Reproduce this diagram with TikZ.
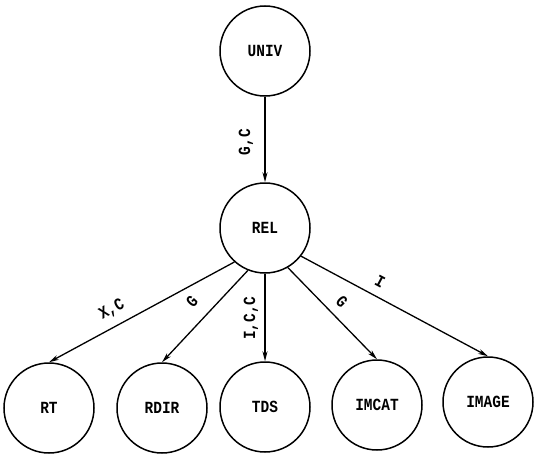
\documentclass[tikz,border=0pt]{standalone}
\usepackage{fontspec}
\newfontfamily\typew[FakeStretch=0.85]{Liberation Mono}
\usetikzlibrary{arrows.meta}
\begin{document}
\begin{tikzpicture}[x=1pt,y=-1pt,
  ent/.style={circle,draw,line width=1.5pt,minimum size=90pt,inner sep=0pt,
    font=\typew\bfseries\fontsize{17}{17}\selectfont},
  lbl/.style={inner sep=0pt,font=\typew\bfseries\fontsize{17}{17}\selectfont},
  rel/.style={line width=1.3pt,-{Stealth[length=10pt,width=5pt]}}]
\useasboundingbox (0,0) rectangle (535,455);
\node[ent] (UNIV) at (265,51) {UNIV};
\node[ent] (REL) at (265,228) {REL};
\node[ent] (RT) at (49,408) {RT};
\node[ent] (RDIR) at (162,408) {RDIR};
\node[ent] (TDS) at (265,407) {TDS};
\node[ent] (IMCAT) at (377,405) {IMCAT};
\node[ent] (IMAGE) at (488,402) {IMAGE};
\draw[rel] (UNIV.south) -- (REL.north);
\draw[rel] (REL.228) -- (RT.north);
\draw[rel] (REL.248) -- (RDIR.north);
\draw[rel] (REL.south) -- (TDS.north);
\draw[rel] (REL.-60) -- (IMCAT.north);
\draw[rel] (REL.-38) -- (IMAGE.north);
\node[lbl,rotate=90] (lGC) at (246,142) {G,C};
\node[lbl,rotate=29] (lXC) at (112,310) {X,C};
\node[lbl,rotate=47] (lG1) at (192,302) {G};
\node[lbl,rotate=90] (lICC) at (251,318) {I,C,C};
\node[lbl,rotate=-46] (lG2) at (342,302) {G};
\node[lbl,rotate=-28] (lI) at (380,282) {I};
\end{tikzpicture}
\end{document}
